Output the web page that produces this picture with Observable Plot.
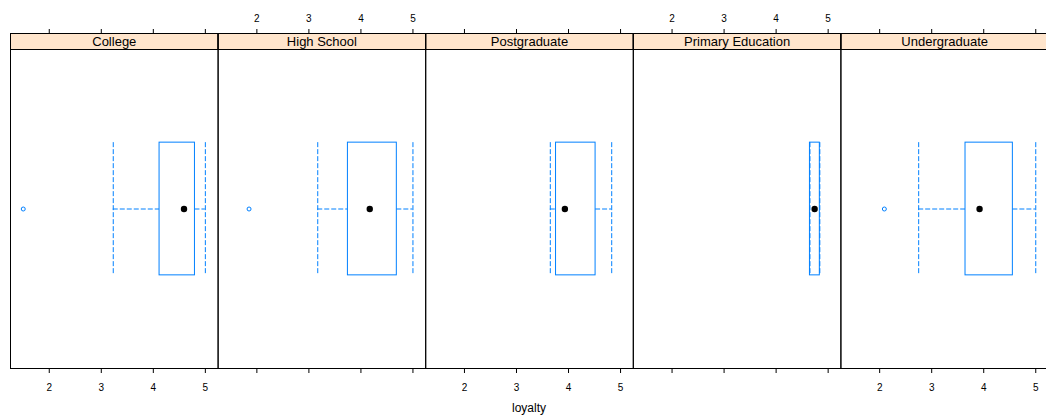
<!DOCTYPE html>
<html>
<head>
<meta charset="utf-8">
<script src="https://cdn.jsdelivr.net/npm/d3@7"></script>
<script src="https://cdn.jsdelivr.net/npm/@observablehq/plot@0.6"></script>
<style>
  html, body { margin: 0; padding: 0; background: #fff; overflow: hidden; }
  #wrap { width: 1046px; font-family: "Liberation Sans", Arial, sans-serif; }
  #xlabel { font-size: 12px; line-height: 16px; text-align: center; padding-left: 12px; color: #000; }
</style>
</head>
<body>
<div id="wrap">
  <div id="chart"></div>
  <div id="xlabel">loyalty</div>
</div>
<script>
// ---- data ----
const levels      = ["College", "High School", "Postgraduate", "Primary Education", "Undergraduate"];
const lowWhisker  = [3.23, 3.17, 3.65, 4.65, 2.75];
const q1          = [4.12, 3.75, 3.76, 4.65, 3.65];
const median      = [4.59, 4.17, 3.93, 4.74, 3.92];
const q3          = [4.80, 4.69, 4.52, 4.84, 4.56];
const highWhisker = [5.00, 5.00, 4.83, 4.84, 5.00];
const outlierLevels = ["College", "High School", "Undergraduate"];
const outlierValues = [1.50, 1.85, 2.09];
const xTicks = [2, 3, 4, 5];
const xLabel = "loyalty";

// ---- derived tables ----
const boxes = levels.map((level, i) => ({
  level, lo: lowWhisker[i], q1: q1[i], med: median[i], q3: q3[i], hi: highWhisker[i]
}));
const outliers = outlierLevels.map((level, i) => ({level, value: outlierValues[i]}));
const tickLabels = levels.flatMap((level, i) =>
  xTicks.map(v => ({level, value: v, side: i % 2 === 0 ? "bottom" : "top"})));
const grp = () => "";

const blue = "#0080ff";
const dash = "5,2";

const chart = Plot.plot({
  width: 1046,
  height: 400,
  marginLeft: 10,
  marginRight: -2,
  marginTop: 33,
  marginBottom: 32,
  style: {fontFamily: "'Liberation Sans', Arial, sans-serif", color: "#000", background: "#fff"},
  fx: {domain: levels, padding: 0, round: false, axis: null, label: null},
  x: {domain: [1.255, 5.245], label: null},
  y: {type: "band", domain: [""], range: [49, 368], padding: 0.4124, round: false, axis: null},
  marks: [
    // strip
    Plot.frame({fill: "#ffe5cc", stroke: "#000", insetBottom: 319}),
    Plot.text(levels, {fx: d => d, text: d => d, frameAnchor: "top", lineAnchor: "middle", dy: 8.5, fontSize: 13, fill: "#000"}),
    // panel border
    Plot.frame({stroke: "#000"}),
    // axes ticks, all panels
    Plot.axisX(xTicks, {anchor: "top", facetAnchor: null, tickSize: 5, tickFormat: () => "", label: null, stroke: "#000"}),
    Plot.axisX(xTicks, {anchor: "bottom", facetAnchor: null, tickSize: 5, tickFormat: () => "", label: null, stroke: "#000"}),
    // alternating tick labels
    Plot.text(tickLabels.filter(d => d.side === "bottom"), {fx: "level", x: "value", text: "value", frameAnchor: "bottom", lineAnchor: "middle", dy: 19, fontSize: 10, fill: "#000"}),
    Plot.text(tickLabels.filter(d => d.side === "top"), {fx: "level", x: "value", text: "value", frameAnchor: "top", lineAnchor: "middle", dy: -15, fontSize: 10, fill: "#000"}),
    // whiskers
    Plot.ruleY(boxes, {fx: "level", y: grp, x1: "lo", x2: "q1", stroke: blue, strokeDasharray: dash}),
    Plot.ruleY(boxes, {fx: "level", y: grp, x1: "q3", x2: "hi", stroke: blue, strokeDasharray: dash}),
    Plot.tickX(boxes, {fx: "level", y: grp, x: "lo", stroke: blue, strokeDasharray: dash}),
    Plot.tickX(boxes, {fx: "level", y: grp, x: "hi", stroke: blue, strokeDasharray: dash}),
    // box
    Plot.barX(boxes, {fx: "level", y: grp, x1: "q1", x2: "q3", fill: "none", stroke: blue}),
    // median
    Plot.dot(boxes, {fx: "level", y: grp, x: "med", fill: "#000", r: 3.2}),
    // outliers
    Plot.dot(outliers, {fx: "level", y: grp, x: "value", fill: "none", stroke: blue, r: 2, strokeWidth: 1})
  ]
});
document.getElementById("chart").appendChild(chart);
document.getElementById("xlabel").textContent = xLabel;
</script>
</body>
</html>
